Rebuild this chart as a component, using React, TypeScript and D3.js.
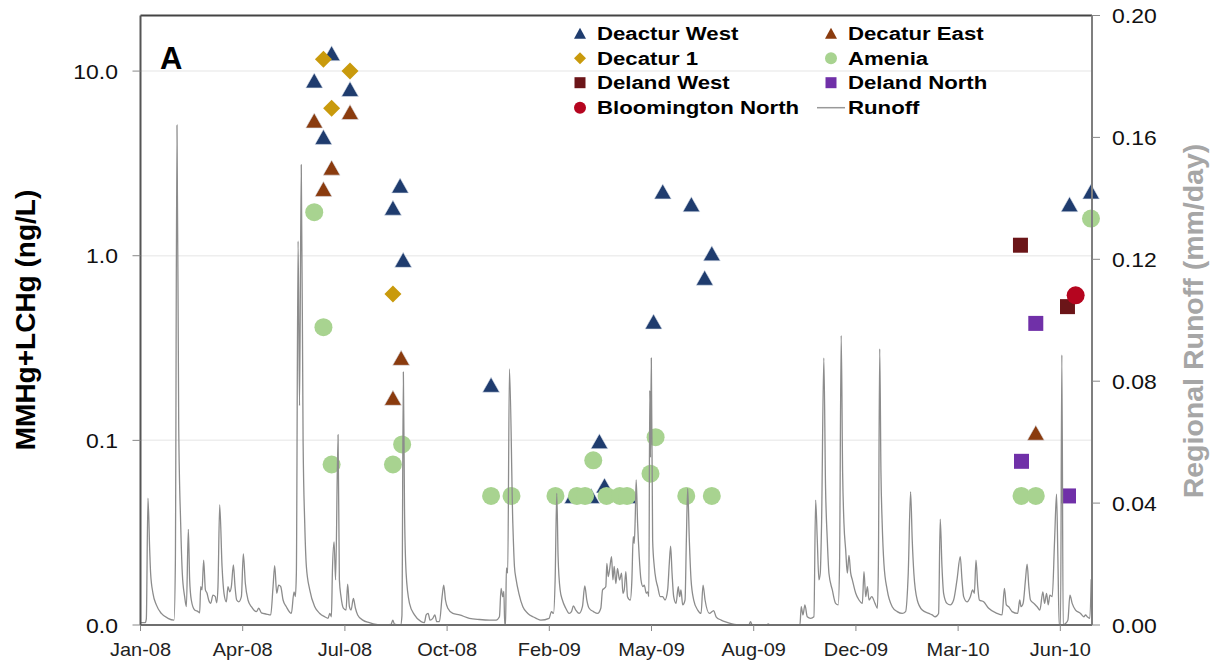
import React from 'react';
import * as d3 from 'd3';

// sampling data (ng/L)
const deacturWestDates = ['2008-06-19', '2008-06-28', '2008-07-06', '2008-07-24', '2008-09-04', '2008-09-11', '2008-09-14', '2008-12-09', '2009-02-27', '2009-03-17', '2009-03-25', '2009-03-30', '2009-04-22', '2009-05-17', '2009-05-26', '2009-06-23', '2009-07-06', '2009-07-13', '2010-06-28', '2010-07-19'];
const deacturWestValues = [8.9, 4.4, 12.5, 8.0, 1.82, 2.4, 0.95, 0.2, 0.05, 0.05, 0.099, 0.057, 0.05, 0.44, 2.23, 1.9, 0.76, 1.03, 1.9, 2.23];

const decaturEastDates = ['2008-06-19', '2008-06-28', '2008-07-06', '2008-07-24', '2008-09-04', '2008-09-12', '2010-05-26'];
const decaturEastValues = [5.4, 2.3, 3.0, 6.0, 0.17, 0.28, 0.11];

const decatur1Dates = ['2008-06-28', '2008-07-06', '2008-07-24', '2008-09-04'];
const decatur1Values = [11.6, 6.3, 10.0, 0.62];

const ameniaDates = ['2008-06-19', '2008-06-28', '2008-07-06', '2008-09-04', '2008-09-13', '2008-12-09', '2008-12-29', '2009-02-10', '2009-03-03', '2009-03-11', '2009-03-19', '2009-04-01', '2009-04-14', '2009-04-21', '2009-05-14', '2009-05-19', '2009-06-18', '2009-07-13', '2010-05-12', '2010-05-26', '2010-07-19'];
const ameniaValues = [1.72, 0.41, 0.074, 0.074, 0.095, 0.05, 0.05, 0.05, 0.05, 0.05, 0.078, 0.05, 0.05, 0.05, 0.066, 0.104, 0.05, 0.05, 0.05, 0.05, 1.59];

const delandWestDates = ['2010-05-11', '2010-06-26'];
const delandWestValues = [1.14, 0.53];

const delandNorthDates = ['2010-05-12', '2010-05-26', '2010-06-27'];
const delandNorthValues = [0.077, 0.43, 0.05];

const bloomingtonNorthDates = ['2010-07-04'];
const bloomingtonNorthValues = [0.61];

// regional runoff: [days since 2008-01-01, mm/day]
const runoff = [
  [0, 0.0008], [4.7, 0.0008], [5.7, 0.002], [7.3, 0.0416], [9.0, 0.0246], [9.9, 0.017], [12.2, 0.0104], [15.5, 0.0066],
  [20.4, 0.0038], [26.9, 0.0022], [32.8, 0.0016], [34.1, 0.02], [35.7, 0.164], [37.4, 0.065], [39.3, 0.0334], [40.9, 0.017],
  [43.2, 0.0093], [44.9, 0.006], [46.8, 0.0314], [48.1, 0.0148], [49.7, 0.0082], [53.0, 0.0049], [56.3, 0.0044], [57.9, 0.004],
  [58.9, 0.0126], [60.2, 0.0115], [61.8, 0.0213], [63.5, 0.0115], [65.1, 0.0104], [66.7, 0.0082], [68.7, 0.0071], [70.9, 0.0098],
  [73.2, 0.0093], [74.5, 0.0073], [75.8, 0.0126], [77.5, 0.0394], [79.8, 0.0192], [81.7, 0.0104], [84.0, 0.0076], [85.6, 0.0126],
  [87.3, 0.0109], [88.9, 0.0126], [90.9, 0.0197], [92.5, 0.0126], [94.1, 0.0082], [96.1, 0.0076], [98.7, 0.0093], [100.6, 0.0233],
  [102.6, 0.0136], [105.2, 0.0082], [108.5, 0.006], [113.4, 0.0044], [115.7, 0.0055], [118.3, 0.004], [123.2, 0.0036], [127.4, 0.0033],
  [129.7, 0.0126], [131.3, 0.0195], [133.3, 0.0104], [135.2, 0.0131], [137.2, 0.0126], [139.5, 0.0082], [142.7, 0.006], [147.6, 0.0038],
  [150.2, 0.0109], [151.5, 0.0093], [152.5, 0.017], [154.2, 0.126], [155.6, 0.072], [157.3, 0.151], [159.1, 0.06], [160.7, 0.0334],
  [162.3, 0.0192], [165.6, 0.0115], [170.5, 0.006], [175.4, 0.0038], [180.3, 0.0027], [183.5, 0.0022], [185.2, 0.0038], [186.8, 0.0027],
  [187.8, 0.018], [189.4, 0.0273], [190.9, 0.0148], [193.3, 0.0624], [194.6, 0.0148], [196.2, 0.0093], [198.5, 0.0055], [201.1, 0.0049],
  [202.7, 0.0134], [204.4, 0.006], [206.0, 0.0049], [208.3, 0.0087], [210.3, 0.0055], [212.5, 0.0033], [217.5, 0.0016], [224.0, 0.0008],
  [230.5, 0.0002], [237.0, 0.0], [245.2, 0.0002], [246.8, 0.0016], [248.5, 0.0003], [254.5, 0.0], [255.8, 0.003], [257.2, 0.083],
  [258.3, 0.0388], [259.9, 0.017], [263.2, 0.0071], [268.1, 0.0033], [274.6, 0.0011], [277.8, 0.0008], [279.5, 0.0033], [281.4, 0.0038],
  [283.4, 0.0016], [286.0, 0.0022], [288.0, 0.0033], [289.9, 0.0011], [292.5, 0.0011], [295.1, 0.0093], [296.7, 0.0131], [298.4, 0.0082],
  [300.7, 0.0055], [305.6, 0.0038], [312.1, 0.0033], [321.8, 0.0022], [331.6, 0.0018], [341.4, 0.0016], [347.9, 0.0016], [351.2, 0.0027],
  [352.8, 0.012], [354.5, 0.0093], [355.5, 0.011], [356.4, 0.0], [357.2, 0.0], [358.0, 0.0187], [359.3, 0.017], [361.0, 0.084],
  [364.3, 0.0334], [365.9, 0.0192], [367.6, 0.0148], [370.2, 0.0104], [374.1, 0.006], [379.0, 0.0038], [383.9, 0.0027], [387.1, 0.0022],
  [391.7, 0.0016], [399.8, 0.0022], [402.1, 0.0044], [404.1, 0.0038], [405.7, 0.0148], [407.3, 0.0432], [408.6, 0.0224], [410.6, 0.0115],
  [412.8, 0.0082], [416.1, 0.0055], [419.4, 0.0038], [421.7, 0.0044], [423.6, 0.0063], [425.9, 0.0049], [429.2, 0.0038], [432.4, 0.006],
  [434.7, 0.0128], [436.7, 0.0082], [439.0, 0.0055], [443.2, 0.0044], [447.2, 0.0038], [450.4, 0.0055], [452.1, 0.0115], [453.7, 0.012],
  [455.3, 0.0126], [456.3, 0.0202], [457.6, 0.0159], [458.9, 0.018], [460.9, 0.0224], [462.2, 0.0148], [463.5, 0.0192], [465.1, 0.0136],
  [466.7, 0.0186], [468.7, 0.0148], [470.7, 0.017], [472.0, 0.0104], [473.3, 0.0115], [474.9, 0.0175], [476.5, 0.0093], [479.2, 0.0082],
  [480.8, 0.0148], [482.1, 0.029], [483.1, 0.0268], [484.1, 0.0355], [485.0, 0.0476], [486.4, 0.0334], [488.0, 0.0224], [489.7, 0.0148],
  [491.6, 0.0126], [492.9, 0.0131], [494.9, 0.0104], [496.2, 0.0109], [497.4, 0.0093], [498.3, 0.077], [499.0, 0.055], [499.8, 0.0876],
  [501.1, 0.0279], [502.7, 0.0192], [504.4, 0.0148], [506.0, 0.0126], [508.6, 0.0093], [510.9, 0.0093], [513.2, 0.0082], [515.8, 0.0115],
  [517.4, 0.0202], [518.7, 0.0259], [520.1, 0.017], [521.7, 0.0093], [524.0, 0.0071], [526.2, 0.0126], [527.5, 0.0093], [528.8, 0.0115],
  [530.5, 0.0066], [532.8, 0.0082], [534.1, 0.0279], [535.4, 0.0448], [537.0, 0.0279], [538.7, 0.0148], [541.3, 0.0082], [545.2, 0.0049],
  [548.5, 0.0038], [550.4, 0.0131], [552.4, 0.0082], [556.6, 0.0038], [560.9, 0.0047], [563.2, 0.0027], [568.1, 0.0016], [574.6, 0.0008],
  [581.1, 0.0002], [588.7, 0.0], [595.2, 0.0], [596.9, 0.0011], [598.5, 0.0], [612.5, 0.0], [614.2, 0.0004], [616.0, 0.0],
  [645.2, 0.0], [646.5, 0.006], [648.2, 0.0033], [650.1, 0.0066], [652.4, 0.0027], [655.7, 0.0022], [658.9, 0.0027], [660.6, 0.041],
  [662.2, 0.0279], [663.8, 0.0148], [665.1, 0.017], [666.4, 0.0334], [668.6, 0.0876], [670.3, 0.045], [672.0, 0.0279], [673.6, 0.017],
  [676.9, 0.0115], [680.1, 0.0071], [682.7, 0.0066], [684.0, 0.02], [685.6, 0.095], [687.0, 0.05], [688.3, 0.0334], [690.0, 0.0246],
  [691.6, 0.017], [693.2, 0.0228], [694.9, 0.017], [696.5, 0.0148], [699.8, 0.0104], [703.0, 0.0082], [706.3, 0.0071], [707.9, 0.0175],
  [709.6, 0.0093], [711.2, 0.0126], [712.8, 0.0082], [715.5, 0.0093], [718.7, 0.0071], [721.0, 0.0055], [722.0, 0.02], [723.3, 0.0906],
  [724.5, 0.05], [725.7, 0.0334], [727.4, 0.0202], [730.6, 0.0115], [735.5, 0.006], [740.4, 0.0044], [745.3, 0.0038], [748.6, 0.0044],
  [751.2, 0.017], [753.5, 0.0437], [755.1, 0.0279], [756.7, 0.017], [760.0, 0.0082], [764.9, 0.0049], [771.4, 0.0038], [774.6, 0.0033],
  [777.6, 0.0027], [780.9, 0.0038], [782.5, 0.0347], [784.2, 0.0192], [785.8, 0.0104], [789.1, 0.0071], [792.3, 0.0066], [795.6, 0.0082],
  [798.9, 0.0148], [802.1, 0.0224], [803.8, 0.0148], [805.4, 0.0093], [808.7, 0.0076], [812.0, 0.0093], [814.2, 0.0115], [815.9, 0.0104],
  [817.5, 0.0213], [819.2, 0.0126], [820.8, 0.0082], [825.0, 0.0076], [829.9, 0.0055], [838.1, 0.0038], [843.0, 0.0033], [845.3, 0.012],
  [847.2, 0.0066], [849.5, 0.006], [852.8, 0.0044], [858.3, 0.0038], [860.3, 0.0082], [861.6, 0.006], [863.6, 0.0071], [865.9, 0.0148],
  [867.5, 0.02], [869.2, 0.0126], [870.8, 0.0082], [874.1, 0.0071], [877.3, 0.006], [880.0, 0.0049], [882.9, 0.0109], [884.6, 0.0071],
  [886.5, 0.0104], [888.2, 0.0066], [889.8, 0.0098], [892.1, 0.0093], [894.4, 0.0279], [896.3, 0.0429], [897.6, 0.0224], [898.9, 0.0],
  [900.2, 0.0], [901.5, 0.0886], [902.8, 0.0], [905.1, 0.0005], [907.4, 0.0016], [909.4, 0.0098], [911.6, 0.0071], [914.9, 0.0049],
  [919.8, 0.0038], [923.0, 0.0027], [924.7, 0.0033], [926.3, 0.0027], [928.9, 0.0022], [930.2, 0.015],
];

const leftTicks = [0.01, 0.1, 1, 10];
const rightTicks = [0, 0.04, 0.08, 0.12, 0.16, 0.2];
const xTickDays = [0, 100, 200, 300, 400, 500, 600, 700, 800, 900];

const W = 1221;
const H = 665;
const left = 140.5, right = 1092, top = 15.5, bottom = 625;
const FONT = '"Liberation Sans", Arial, sans-serif';
const START = Date.UTC(2008, 0, 1);
const dayToDate = (d: number) => new Date(START + d * 86400000);
const parseDate = d3.utcParse('%Y-%m-%d');

// marker path builders, centred on 0,0
const triPath = (w: number, h: number) => `M0,${-h / 2}L${w / 2},${h / 2}L${-w / 2},${h / 2}Z`;
const diamondPath = (s: number) => `M0,${-s / 2}L${s / 2},0L0,${s / 2}L${-s / 2},0Z`;
const squarePath = (s: number) => `M${-s / 2},${-s / 2}h${s}v${s}h${-s}Z`;
const circlePath = (r: number) => `M${-r},0a${r},${r} 0 1,0 ${2 * r},0a${r},${r} 0 1,0 ${-2 * r},0Z`;

const series = [
  { name: 'Deactur West', dates: deacturWestDates, values: deacturWestValues, color: '#1f3c6e', shape: 'tri' },
  { name: 'Decatur East', dates: decaturEastDates, values: decaturEastValues, color: '#8a3b0e', shape: 'tri' },
  { name: 'Decatur 1', dates: decatur1Dates, values: decatur1Values, color: '#c99a0c', shape: 'diamond' },
  { name: 'Amenia', dates: ameniaDates, values: ameniaValues, color: '#a8d390', shape: 'circle' },
  { name: 'Deland West', dates: delandWestDates, values: delandWestValues, color: '#6b1518', shape: 'square' },
  { name: 'Deland North', dates: delandNorthDates, values: delandNorthValues, color: '#7030a8', shape: 'square' },
  { name: 'Bloomington North', dates: bloomingtonNorthDates, values: bloomingtonNorthValues, color: '#b5051f', shape: 'circle' },
];

const markerPath = (shape: string, big: boolean) => {
  if (shape === 'tri') return big ? triPath(17, 15) : triPath(12, 11);
  if (shape === 'diamond') return big ? diamondPath(17) : diamondPath(12);
  if (shape === 'square') return big ? squarePath(15) : squarePath(11);
  return big ? circlePath(9) : circlePath(6);
};

// horizontally stretched text (the figure's type is wider than Arial)
const SText = ({ x, y, sx = 1, children, ...rest }: any) => (
  <text transform={`translate(${x},${y}) scale(${sx},1)`} fontFamily={FONT} {...rest}>
    {children}
  </text>
);

export default function App() {
  const x = d3.scaleUtc().domain([dayToDate(0), new Date(Date.UTC(2010, 6, 20))]).range([left, right]);
  const yL = d3.scaleLog().domain([0.01, 20]).range([bottom, top]);
  const yR = d3.scaleLinear().domain([0, 0.2]).range([bottom, top]);
  const fmtL = d3.format('.1f');
  const fmtR = d3.format('.2f');
  const fmtX = d3.utcFormat('%b-%y');

  const line = d3.line<number[]>()
    .x((d) => x(dayToDate(d[0])))
    .y((d) => yR(d[1]))
    .curve(d3.curveMonotoneX);

  const legendRows = [33.3, 58.3, 82.7, 107.7];
  const legendItems = [...series.map((s) => ({ name: s.name, color: s.color, shape: s.shape })), { name: 'Runoff', color: '#999', shape: 'line' }];

  return (
    <svg width={W} height={H} style={{ position: 'absolute', left: 0, top: 0, background: '#fff' }}>
      <defs>
        <clipPath id="plot">
          <rect x={left} y={top} width={right - left} height={bottom - top} />
        </clipPath>
      </defs>

      {/* gridlines */}
      {leftTicks.slice(1).map((t) => (
        <line key={t} x1={left} x2={right} y1={yL(t)} y2={yL(t)} stroke="#eeeeee" strokeWidth={1.5} />
      ))}

      {/* markers */}
      {series.map((s) => (
        <g key={s.name}>
          {s.dates.map((d, i) => (
            <path
              key={i}
              d={markerPath(s.shape, true)}
              transform={`translate(${x(parseDate(d) as Date)},${yL(s.values[i])})`}
              fill={s.color}
              stroke={s.shape === 'tri' ? '#dfe6f0' : 'none'}
              strokeWidth={0.6}
            />
          ))}
        </g>
      ))}

      {/* runoff */}
      <path d={line(runoff) || ''} fill="none" stroke="#8c8c8c" strokeWidth={1.3} clipPath="url(#plot)" />

      {/* frame and axes */}
      <line x1={left} x2={right} y1={top} y2={top} stroke="#444" strokeWidth={2} />
      <line x1={right} x2={right} y1={top} y2={bottom} stroke="#7f7f7f" strokeWidth={2} />
      <line x1={left} x2={right} y1={bottom} y2={bottom} stroke="#6f6f6f" strokeWidth={2} />
      <line x1={left} x2={left} y1={top} y2={bottom} stroke="#555" strokeWidth={2} />

      {/* left axis */}
      {leftTicks.map((t) => (
        <g key={t}>
          <line x1={left - 8} x2={left} y1={yL(t)} y2={yL(t)} stroke="#888" strokeWidth={1} />
          <SText x={118} y={yL(t) + 7.5} sx={1.12} textAnchor="end" fontSize={20.5} fill="#111">
            {fmtL(t)}
          </SText>
        </g>
      ))}

      {/* right axis */}
      {rightTicks.map((t) => (
        <g key={t}>
          <line x1={right} x2={right + 8} y1={yR(t)} y2={yR(t)} stroke="#888" strokeWidth={1} />
          <SText x={1112} y={yR(t) + 7.5} sx={1.12} textAnchor="start" fontSize={20.5} fill="#111">
            {fmtR(t)}
          </SText>
        </g>
      ))}

      {/* bottom axis */}
      {xTickDays.map((d) => (
        <g key={d}>
          <line x1={x(dayToDate(d))} x2={x(dayToDate(d))} y1={bottom} y2={bottom + 6} stroke="#888" strokeWidth={1} />
          <SText x={x(dayToDate(d))} y={656} sx={1.05} textAnchor="middle" fontSize={19} fill="#222">
            {fmtX(dayToDate(d))}
          </SText>
        </g>
      ))}

      {/* axis titles */}
      <text transform="translate(35,320) rotate(-90)" textAnchor="middle" fontFamily={FONT} fontWeight="bold" fontSize={28} fill="#000">
        MMHg+LCHg (ng/L)
      </text>
      <text transform="translate(1203,321) rotate(-90)" textAnchor="middle" fontFamily={FONT} fontWeight="bold" fontSize={28.5} fill="#a6a6a6">
        Regional Runoff (mm/day)
      </text>

      {/* panel letter */}
      <text x={160} y={69} fontFamily={FONT} fontWeight="bold" fontSize={31} fill="#000">A</text>

      {/* legend */}
      {legendItems.map((it, i) => {
        const col = i % 2;
        const row = Math.floor(i / 2);
        const mx = col === 0 ? 580 : 831;
        const tx = col === 0 ? 597 : 848;
        const ly = legendRows[row];
        return (
          <g key={it.name}>
            {it.shape === 'line' ? (
              <line x1={817} x2={845} y1={ly} y2={ly} stroke={it.color} strokeWidth={1.5} />
            ) : (
              <path d={markerPath(it.shape, false)} transform={`translate(${mx},${ly})`} fill={it.color} />
            )}
            <SText x={tx} y={ly + 6.7} sx={1.2} fontSize={18.5} fontWeight="bold" fill="#000">
              {it.name}
            </SText>
          </g>
        );
      })}
    </svg>
  );
}
